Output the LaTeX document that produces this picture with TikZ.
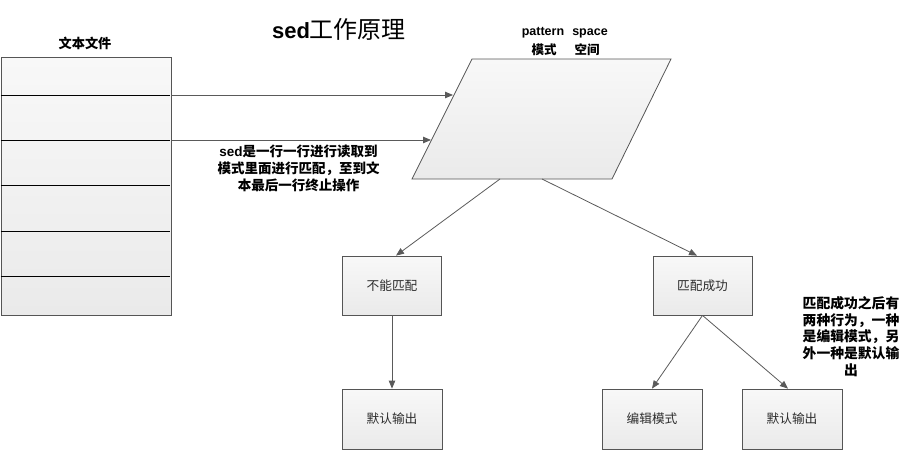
\documentclass[tikz,border=0pt]{standalone}
\usepackage{fontspec}
\setmainfont{Noto Sans CJK SC}
\newfontfamily\lat{Liberation Sans}
\usetikzlibrary{arrows.meta,calc}
\definecolor{boxline}{RGB}{85,85,85}
\definecolor{arrc}{RGB}{90,90,90}
\definecolor{txt}{RGB}{45,45,45}
\definecolor{ftop}{RGB}{248,248,248}
\definecolor{fbot}{RGB}{234,234,234}
\begin{document}
\begin{tikzpicture}[x=1pt,y=-1pt,
  box/.style={draw=boxline, line width=0.8pt, top color=ftop, bottom color=fbot,
    minimum width=99pt, minimum height=59pt, inner sep=0pt,
    font=\fontsize{12.7}{15}\selectfont, text=txt},
  filebox/.style={draw=boxline, line width=0.8pt, top color=ftop, bottom color=fbot,
    minimum width=170pt, minimum height=258pt, inner sep=0pt},
  rowline/.style={draw=black, line width=1.0pt},
  arr/.style={draw=arrc, line width=0.8pt, -{Triangle[length=8pt,width=6.5pt]}},
  note/.style={font=\fontsize{13.5}{16.7}\selectfont\bfseries, align=center, inner sep=0pt, text=black},
  lbl/.style={font=\fontsize{12.5}{15}\selectfont\bfseries, inner sep=0pt, text=black}
]
\useasboundingbox (0,0) rectangle (916,450);

% title
\node[inner sep=0pt] (title) at (339,29) {{\fontsize{22}{26}\selectfont\lat\bfseries sed}{\fontsize{24}{26}\selectfont 工作原理}};

% text file
\node[lbl, font=\fontsize{13.2}{15}\selectfont\bfseries] (tflabel) at (85,43) {文本文件};
\node[filebox] (tf) at (86,186) {};
\foreach \yy in {95,140,185,231,276}{
  \draw[rowline] ($(tf.west)+(0,\yy-186)$) -- ($(tf.east)+(-1,\yy-186)$);
}

% pattern space
\coordinate (ptl) at (472,59);
\coordinate (ptr) at (671,59);
\coordinate (pbr) at (612,179);
\coordinate (pbl) at (412,179);
\shade[top color=ftop, bottom color=fbot] (ptl) -- (ptr) -- (pbr) -- (pbl) -- cycle;
\draw[draw=boxline, line width=0.8pt] (ptl) -- (ptr) -- (pbr) -- (pbl) -- cycle;
\node[lbl] (pat) at (543,33) {\lat pattern};
\node[lbl] (spc) at (590,33) {\lat space};
\node[lbl] (ms1) at (544,50) {模式};
\node[lbl] (kj) at (587,50) {空间};

% arrows from file into pattern space
\coordinate (a1s) at ($(tf.east)+(0,95-186)$);
\coordinate (a2s) at ($(tf.east)+(0,140-186)$);
\coordinate (a1e) at (453,95);
\coordinate (a2e) at (431,140);
\draw[arr] (a1s) -- (a1e);
\draw[arr] (a2s) -- (a2e);

\node[note] (n1) at (298.5,168.5) {{\lat sed}是一行一行进行读取到\\模式里面进行匹配，至到文\\本最后一行终止操作};

% boxes
\node[box] (nm) at (392,285.5) {不能匹配};
\node[box] (ok) at (702.5,285.5) {匹配成功};
\node[box, minimum width=100pt, minimum height=60pt] (do1) at (392,419) {默认输出};
\node[box, minimum width=100pt, minimum height=60pt] (em) at (652,419) {编辑模式};
\node[box, minimum width=100pt, minimum height=60pt] (do2) at (792,419) {默认输出};

\coordinate (pb1) at (500,179);
\coordinate (pb2) at (542,179);
\draw[arr] (pb1) -- ($(nm.north)+(4,0)$);
\draw[arr] (pb2) -- ($(ok.north)+(-5.5,0)$);
\draw[arr] (nm.south) -- (do1.north);
\draw[arr] (ok.south) -- (em.north);
\draw[arr] (ok.south) -- ($(do2.north)+(-4,0)$);

\node[note, font=\fontsize{13.8}{16.7}\selectfont\bfseries] (n2) at (851,336.5) {匹配成功之后有\\两种行为，一种\\是编辑模式，另\\外一种是默认输\\出};
\end{tikzpicture}
\end{document}
